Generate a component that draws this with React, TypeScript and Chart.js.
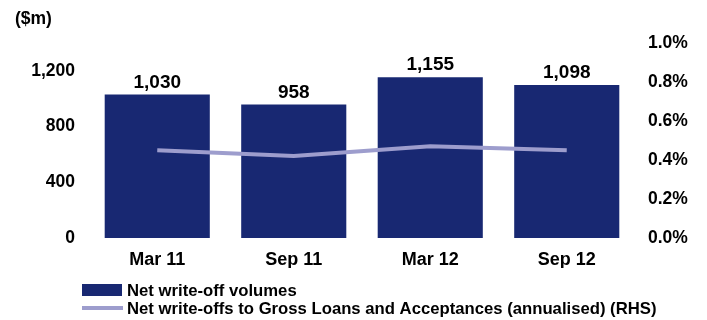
import React, { useEffect, useRef } from "react";
import { Chart, registerables } from "chart.js";

Chart.register(...registerables);

const categories = ["Mar 11", "Sep 11", "Mar 12", "Sep 12"];
const writeOffVolumes = [1030, 958, 1155, 1098];
const writeOffRatio = [0.45, 0.42, 0.47, 0.45];
const leftTicks = [0, 400, 800, 1200];
const rightTicks = [0, 0.2, 0.4, 0.6, 0.8, 1.0];
const barLabel = "Net write-off volumes";
const lineLabel = "Net write-offs to Gross Loans and Acceptances (annualised) (RHS)";
const unitLabel = "($m)";

const FONT = "'Liberation Sans', Arial, sans-serif";
const BAR_COLOR = "#182872";
const LINE_COLOR = "#9d9dcd";
const TEXT_COLOR = "#000000";

const extrasPlugin = {
  id: "extras",
  afterDatasetsDraw(chart: any) {
    const ctx = chart.ctx;
    ctx.save();
    const meta = chart.getDatasetMeta(0);
    ctx.font = `bold 19px ${FONT}`;
    ctx.fillStyle = TEXT_COLOR;
    ctx.textAlign = "center";
    ctx.textBaseline = "alphabetic";
    meta.data.forEach((el: any, i: number) => {
      const v = chart.data.datasets[0].data[i];
      ctx.fillText(Number(v).toLocaleString("en-US"), el.x, el.y - 7);
    });
    ctx.restore();
  },
  afterDraw(chart: any) {
    const ctx = chart.ctx;
    const ds = chart.data.datasets;
    ctx.save();
    ctx.font = `bold 17.5px ${FONT}`;
    ctx.fillStyle = TEXT_COLOR;
    ctx.textAlign = "left";
    ctx.textBaseline = "middle";
    ctx.fillText(unitLabel, 15, 19);
    const lx = 82;
    const rows = [290, 308];
    ctx.fillStyle = ds[0].backgroundColor;
    ctx.fillRect(lx, rows[0] - 6, 40, 12);
    ctx.strokeStyle = ds[1].borderColor;
    ctx.lineWidth = 4;
    ctx.beginPath();
    ctx.moveTo(lx, rows[1]);
    ctx.lineTo(lx + 41, rows[1]);
    ctx.stroke();
    ctx.fillStyle = TEXT_COLOR;
    ctx.font = `bold 16.7px ${FONT}`;
    ctx.fillText(ds[0].label, 127, rows[0] + 1);
    ctx.fillText(ds[1].label, 127, rows[1] + 1);
    ctx.restore();
  },
};

export default function App() {
  const canvasRef = useRef<HTMLCanvasElement | null>(null);

  useEffect(() => {
    document.body.style.margin = "0";
    const canvas = canvasRef.current;
    if (!canvas) return;
    const chart = new Chart(canvas, {
      type: "bar",
      data: {
        labels: categories,
        datasets: [
          {
            type: "bar",
            label: barLabel,
            data: writeOffVolumes,
            backgroundColor: BAR_COLOR,
            borderWidth: 0,
            yAxisID: "y",
            order: 1,
            categoryPercentage: 1,
            barPercentage: 0.77,
          } as any,
          {
            type: "line",
            label: lineLabel,
            data: writeOffRatio,
            borderColor: LINE_COLOR,
            backgroundColor: LINE_COLOR,
            borderWidth: 4,
            pointRadius: 0,
            tension: 0,
            yAxisID: "y1",
            order: 0,
          } as any,
        ],
      },
      options: {
        animation: false,
        responsive: true,
        maintainAspectRatio: false,
        layout: { padding: { top: 43, bottom: 52, left: 0, right: 0 } },
        plugins: {
          legend: { display: false },
          tooltip: { enabled: false },
          title: { display: false },
        },
        scales: {
          x: {
            grid: { display: false, drawTicks: false },
            border: { display: false },
            ticks: {
              padding: 11,
              color: TEXT_COLOR,
              font: { family: FONT, size: 18, weight: "bold" },
            },
            afterFit(scale: any) {
              scale.height = 30;
            },
          },
          y: {
            position: "left",
            min: 0,
            max: 1400,
            grid: { display: false, drawTicks: false },
            border: { display: false },
            afterBuildTicks(scale: any) {
              scale.ticks = leftTicks.map((v) => ({ value: v }));
            },
            ticks: {
              padding: 14,
              color: TEXT_COLOR,
              font: { family: FONT, size: 17.5, weight: "bold" },
              callback: (v: any) => Number(v).toLocaleString("en-US"),
            },
            afterFit(scale: any) {
              scale.width = 89;
            },
          },
          y1: {
            position: "right",
            min: 0,
            max: 1.0,
            grid: { display: false, drawTicks: false },
            border: { display: false },
            afterBuildTicks(scale: any) {
              scale.ticks = rightTicks.map((v) => ({ value: v }));
            },
            ticks: {
              padding: 13,
              color: TEXT_COLOR,
              font: { family: FONT, size: 17.5, weight: "bold" },
              callback: (v: any) => Number(v).toFixed(1) + "%",
            },
            afterFit(scale: any) {
              scale.width = 72;
            },
          },
        },
      } as any,
      plugins: [extrasPlugin],
    });
    return () => chart.destroy();
  }, []);

  return (
    <div style={{ position: "relative", width: 707, height: 320 }}>
      <canvas ref={canvasRef} />
    </div>
  );
}
